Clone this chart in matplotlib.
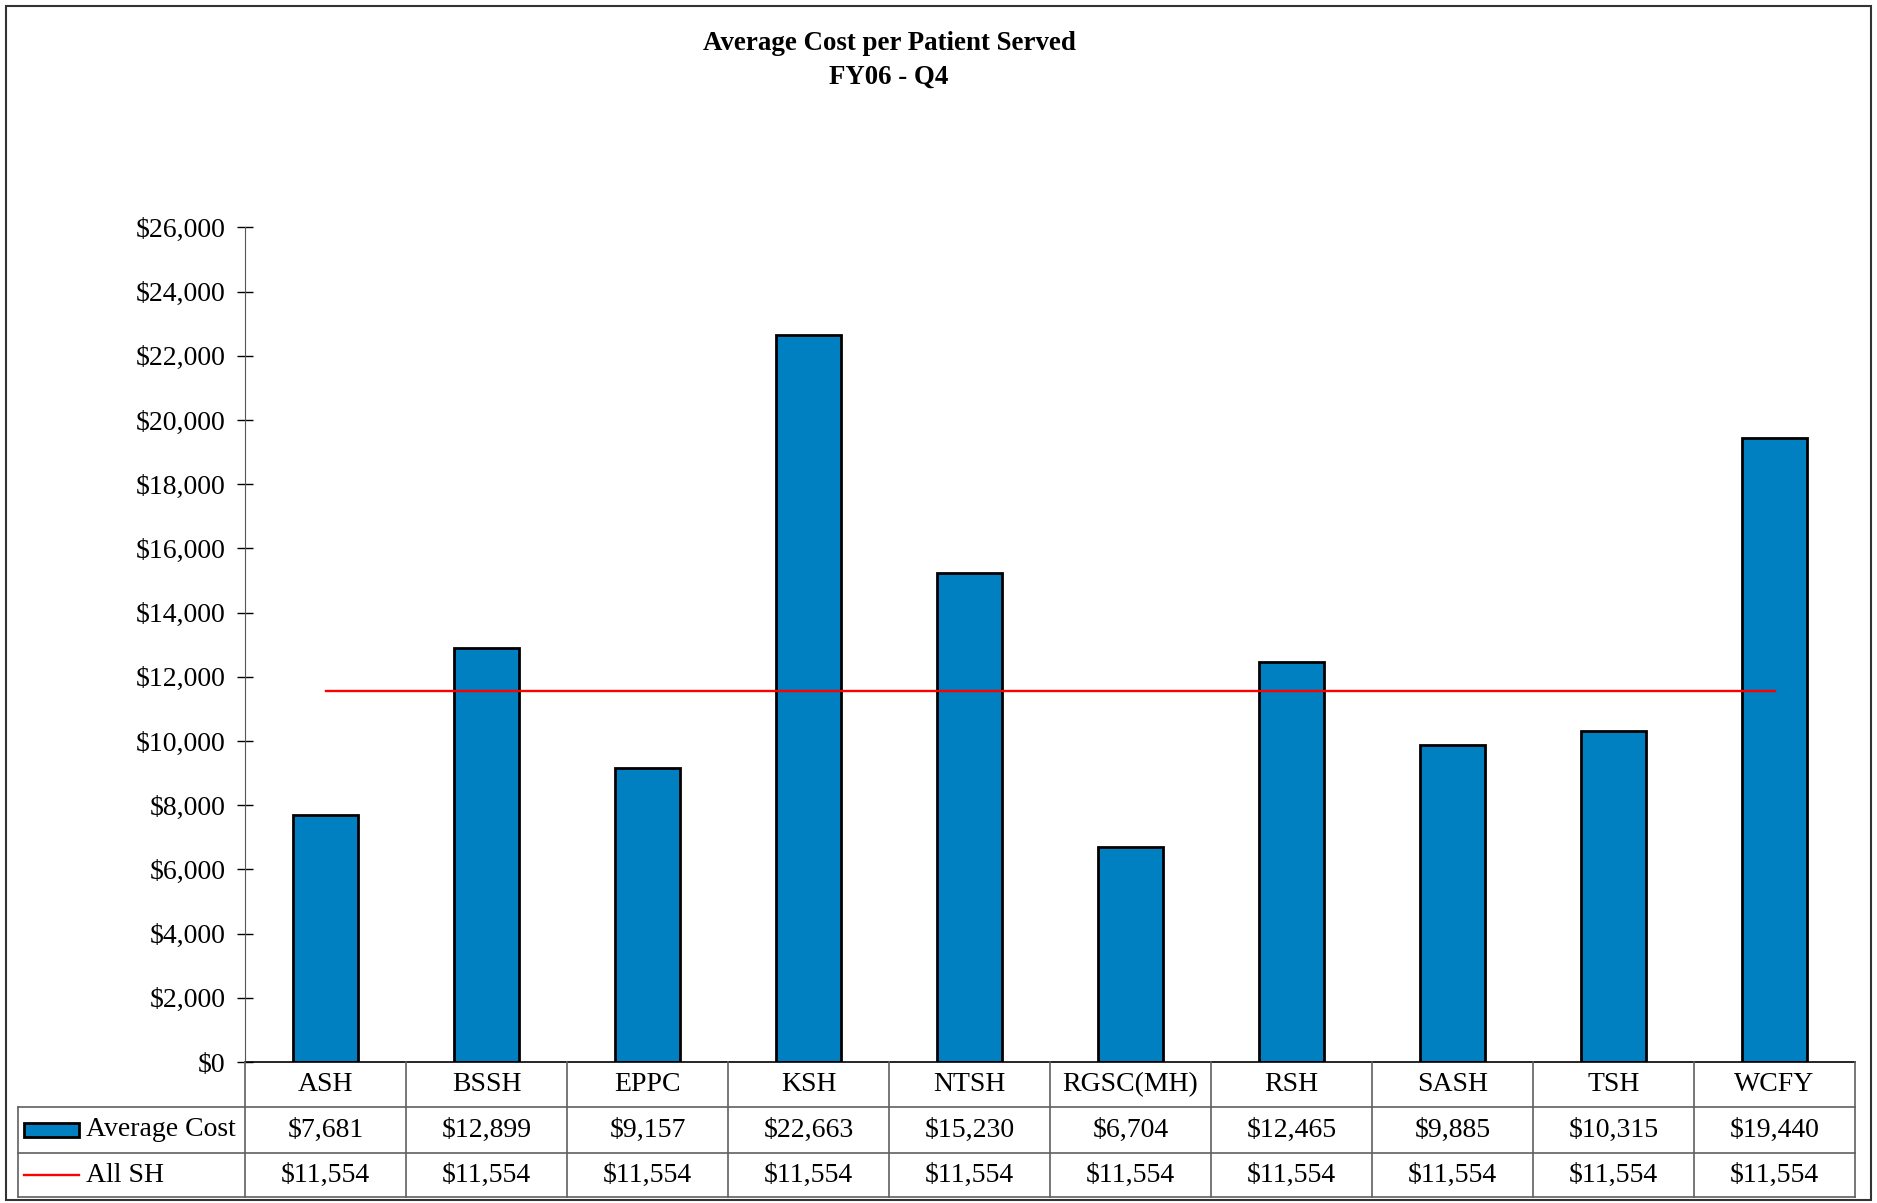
import matplotlib.pyplot as plt
from matplotlib.patches import Rectangle
from matplotlib.lines import Line2D
from matplotlib.transforms import blended_transform_factory

# data
hospitals = ['ASH', 'BSSH', 'EPPC', 'KSH', 'NTSH', 'RGSC(MH)', 'RSH', 'SASH', 'TSH', 'WCFY']
avg_cost = [7681, 12899, 9157, 22663, 15230, 6704, 12465, 9885, 10315, 19440]
all_sh = [11554, 11554, 11554, 11554, 11554, 11554, 11554, 11554, 11554, 11554]
series_names = ['Average Cost', 'All SH']
y_ticks = list(range(0, 26001, 2000))

plt.rcParams['font.family'] = ['Liberation Serif', 'DejaVu Serif']

W, H = 1877, 1203
fig = plt.figure(figsize=(W / 100, H / 100), dpi=100)

def fx(px):
    return px / W

def fy(py):
    return 1 - py / H

# plot area position in pixels
x0, x1 = 245, 1855
y_top, y_zero = 227.5, 1062
ax = fig.add_axes([fx(x0), fy(y_zero), fx(x1) - fx(x0), fy(y_top) - fy(y_zero)])

bar_blue = '#0080C0'
x = list(range(len(hospitals)))
ax.bar(x, avg_cost, width=0.4, color=bar_blue, edgecolor='black', linewidth=2.0, zorder=2)
ax.plot(x, all_sh, color='#FF0000', linewidth=1.7, zorder=3)

ax.set_xlim(-0.5, len(hospitals) - 0.5)
ax.set_ylim(0, 26000)
ax.set_yticks(y_ticks)
ax.set_yticklabels(['${:,}'.format(v) for v in y_ticks], fontsize=20)
ax.tick_params(axis='y', direction='inout', length=12, width=1, pad=8)
ax.set_xticks([])
for side in ['top', 'right']:
    ax.spines[side].set_visible(False)
ax.spines['left'].set_color('#555555')
ax.spines['bottom'].set_color('black')
ax.spines['bottom'].set_linewidth(1.2)

# title
fig.text(fx(889), fy(44), 'Average Cost per Patient Served', ha='center', va='center',
         fontsize=19.4, fontweight='bold')
fig.text(fx(889), fy(77), 'FY06 - Q4', ha='center', va='center',
         fontsize=19.4, fontweight='bold')

# data table under the plot
tr = blended_transform_factory(ax.transData, fig.transFigure)
grid_c = '#606060'
row_y = [1062, 1107, 1153, 1197]
left_px = 18

def hline(px_a, px_b, py):
    fig.add_artist(Line2D([fx(px_a), fx(px_b)], [fy(py), fy(py)], color=grid_c, lw=1.2))

def vline(px, py_a, py_b):
    fig.add_artist(Line2D([fx(px), fx(px)], [fy(py_a), fy(py_b)], color=grid_c, lw=1.2))

hline(left_px, x1, row_y[1])
hline(left_px, x1, row_y[2])
hline(left_px, x1, row_y[3])
vline(left_px, row_y[1], row_y[3])
vline(x0, row_y[0], row_y[3])
for i in range(len(hospitals)):
    xe = i + 0.5
    fig.add_artist(Line2D([xe, xe], [fy(row_y[0]), fy(row_y[3])], color=grid_c, lw=1.2, transform=tr))

rows = [avg_cost, all_sh]
for i, name in enumerate(hospitals):
    ax.text(i, fy((row_y[0] + row_y[1]) / 2), name, transform=tr, ha='center', va='center',
            fontsize=20, clip_on=False)
    for r, vals in enumerate(rows):
        yc = fy((row_y[r + 1] + row_y[r + 2]) / 2)
        ax.text(i, yc, '${:,}'.format(vals[i]), transform=tr, ha='center', va='center',
                fontsize=20, clip_on=False)

# legend keys in the row header cells
yc1 = (row_y[1] + row_y[2]) / 2
yc2 = (row_y[2] + row_y[3]) / 2
fig.add_artist(Rectangle((fx(24), fy(yc1 + 7)), fx(79) - fx(24), fy(yc1 - 7) - fy(yc1 + 7),
                         facecolor=bar_blue, edgecolor='black', lw=2.0))
fig.add_artist(Line2D([fx(24), fx(79)], [fy(yc2), fy(yc2)], color='#FF0000', lw=1.7))
fig.text(fx(86), fy(yc1), series_names[0], ha='left', va='center', fontsize=20)
fig.text(fx(86), fy(yc2), series_names[1], ha='left', va='center', fontsize=20)

# outer chart border
fig.add_artist(Rectangle((fx(6), fy(1200)), fx(1871) - fx(6), fy(6) - fy(1200),
                         fill=False, edgecolor='#333333', lw=1.5))

fig.savefig('out.png', dpi=100)
